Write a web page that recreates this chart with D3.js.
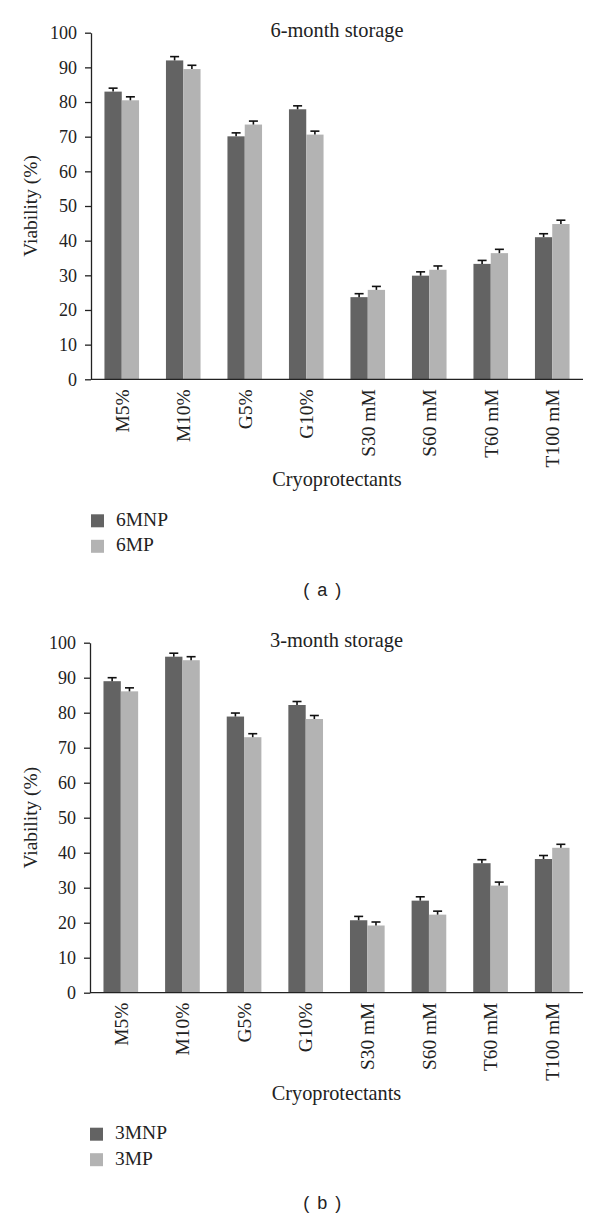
<!DOCTYPE html>
<html>
<head>
<meta charset="utf-8">
<script src="https://cdn.jsdelivr.net/npm/d3@7"></script>
<style>
  html, body { margin: 0; padding: 0; background: #fff; }
  svg { display: block; }
</style>
</head>
<body>
<svg id="chart" width="600" height="1220"></svg>
<script>
const categories = ["M5%", "M10%", "G5%", "G10%", "S30 mM", "S60 mM", "T60 mM", "T100 mM"];
const yTicks = [0, 10, 20, 30, 40, 50, 60, 70, 80, 90, 100];

// Panel (a): 6-month storage
const seriesA = ["6MNP", "6MP"];
const valuesA_6MNP = [83.0, 92.0, 70.1, 77.9, 23.7, 29.9, 33.3, 41.0];
const valuesA_6MP  = [80.5, 89.5, 73.5, 70.6, 25.8, 31.6, 36.4, 44.8];
const errorsA_6MNP = [1.0, 1.1, 1.0, 1.0, 1.0, 1.1, 1.0, 1.0];
const errorsA_6MP  = [1.0, 1.1, 1.0, 1.0, 1.0, 1.1, 1.1, 1.1];

// Panel (b): 3-month storage
const seriesB = ["3MNP", "3MP"];
const valuesB_3MNP = [89.0, 96.0, 78.9, 82.2, 20.7, 26.3, 37.0, 38.2];
const valuesB_3MP  = [86.1, 95.0, 73.0, 78.2, 19.2, 22.3, 30.6, 41.4];
const errorsB_3MNP = [1.0, 1.0, 1.0, 1.0, 1.1, 1.1, 1.0, 1.0];
const errorsB_3MP  = [1.0, 1.0, 1.0, 1.0, 1.0, 1.0, 1.0, 1.0];

const colors = ["#636363", "#b3b3b3"];
const serif = "'Liberation Serif', 'Times New Roman', serif";
const svg = d3.select("#chart");

function drawPanel(opts) {
  const { top, left, right, bottom, title, series, values, errors, letter } = opts;
  const g = svg.append("g");

  const y = d3.scaleLinear().domain([0, 100]).range([bottom, top]);
  const x0 = d3.scaleBand().domain(categories).range([left, right])
    .paddingInner(0.4375).paddingOuter(0.21875);
  const x1 = d3.scaleBand().domain(series).range([0, x0.bandwidth()]).padding(0);

  // bars
  const rows = categories.map((c, i) => ({
    cat: c,
    items: series.map((s, k) => ({ s, k, v: values[k][i], e: errors[k][i] }))
  }));
  const grp = g.selectAll("g.grp").data(rows).join("g")
    .attr("transform", d => `translate(${x0(d.cat)},0)`);
  grp.selectAll("rect").data(d => d.items).join("rect")
    .attr("x", d => x1(d.s))
    .attr("y", d => y(d.v))
    .attr("width", x1.bandwidth())
    .attr("height", d => y(0) - y(d.v))
    .attr("fill", d => colors[d.k]);
  // error bars
  const eb = grp.selectAll("g.err").data(d => d.items).join("g").attr("class", "err");
  eb.append("line")
    .attr("x1", d => x1(d.s) + x1.bandwidth() / 2)
    .attr("x2", d => x1(d.s) + x1.bandwidth() / 2)
    .attr("y1", d => y(d.v))
    .attr("y2", d => y(d.v + d.e))
    .attr("stroke", "#111").attr("stroke-width", 1.6);
  eb.append("line")
    .attr("x1", d => x1(d.s) + x1.bandwidth() / 2 - 4.5)
    .attr("x2", d => x1(d.s) + x1.bandwidth() / 2 + 4.5)
    .attr("y1", d => y(d.v + d.e))
    .attr("y2", d => y(d.v + d.e))
    .attr("stroke", "#111").attr("stroke-width", 1.6);

  // y axis
  const yAxis = g.append("g").attr("transform", `translate(${left},0)`)
    .call(d3.axisLeft(y).tickValues(yTicks).tickSize(6).tickPadding(8).tickSizeOuter(0));
  yAxis.selectAll("text").attr("font-family", serif).attr("font-size", 18).attr("fill", "#222");
  yAxis.selectAll("line, path").attr("stroke", "#222").attr("stroke-width", 1.3);

  // x axis
  const xAxis = g.append("g").attr("transform", `translate(0,${bottom})`)
    .call(d3.axisBottom(x0).tickSize(0).tickSizeOuter(0).tickFormat(""));
  xAxis.select("path").attr("d", `M${left},0H${right}`).attr("stroke", "#222").attr("stroke-width", 1.3);

  // category labels (rotated)
  g.selectAll("text.cat").data(categories).join("text")
    .attr("class", "cat")
    .attr("transform", d => `translate(${x0(d) + x0.bandwidth() / 2},${bottom + 10}) rotate(-90)`)
    .attr("text-anchor", "end")
    .attr("dy", "0.35em")
    .attr("font-family", serif).attr("font-size", 19.4).attr("fill", "#222")
    .text(d => d);

  // title
  g.append("text")
    .attr("x", (left + right) / 2).attr("y", top + 4.6)
    .attr("text-anchor", "middle")
    .attr("font-family", serif).attr("font-size", 20.4).attr("fill", "#222")
    .text(title);

  // y label
  g.append("text")
    .attr("transform", `translate(37,${y(50)}) rotate(-90)`)
    .attr("text-anchor", "middle")
    .attr("font-family", serif).attr("font-size", 19.4).attr("fill", "#222")
    .text("Viability (%)");

  // x label
  g.append("text")
    .attr("x", (left + right) / 2).attr("y", bottom + 107)
    .attr("text-anchor", "middle")
    .attr("font-family", serif).attr("font-size", 20.3).attr("fill", "#222")
    .text("Cryoprotectants");

  // legend
  const lg = g.selectAll("g.leg").data(series).join("g")
    .attr("transform", (d, i) => `translate(${left},${bottom + 135 + i * 25.5})`);
  lg.append("rect").attr("width", 13).attr("height", 13).attr("fill", (d, i) => colors[i]);
  lg.append("text").attr("x", 25).attr("y", 11.5)
    .attr("font-family", serif).attr("font-size", 19.5).attr("fill", "#222")
    .text(d => d);

  // panel letter
  g.append("text")
    .attr("x", 323).attr("y", bottom + 216.5)
    .attr("text-anchor", "middle")
    .attr("font-family", "'Liberation Sans', Arial, sans-serif").attr("font-size", 18)
    .attr("letter-spacing", 1.5).attr("fill", "#222")
    .style("white-space", "pre")
    .text(letter);
}

drawPanel({
  top: 32.7, bottom: 379.3, left: 91, right: 583,
  title: "6-month storage", series: seriesA,
  values: [valuesA_6MNP, valuesA_6MP], errors: [errorsA_6MNP, errorsA_6MP],
  letter: "( a )"
});
drawPanel({
  top: 642.7, bottom: 992.7, left: 90, right: 583,
  title: "3-month storage", series: seriesB,
  values: [valuesB_3MNP, valuesB_3MP], errors: [errorsB_3MNP, errorsB_3MP],
  letter: "( b )"
});
</script>
</body>
</html>
